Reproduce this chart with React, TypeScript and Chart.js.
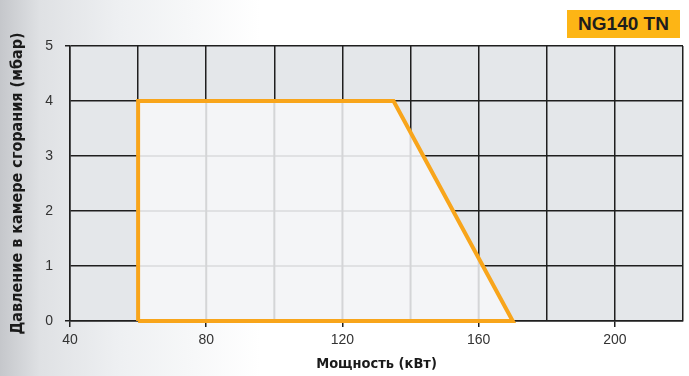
import React, { useEffect, useRef } from "react";
import { Chart, registerables } from "chart.js";

Chart.register(...registerables);

const TITLE = "NG140 TN";
const X_TITLE = "Мощность (кВт)";
const Y_TITLE = "Давление в камере сгорания (мбар)";
const X_MIN = 40;
const X_MAX = 220;
const X_STEP = 20;
const X_LABELED = [40, 80, 120, 160, 200];
const Y_MIN = 0;
const Y_MAX = 5;
const Y_STEP = 1;
// working field polygon: power (kW) vs pressure (mbar)
const fieldPower = [60, 60, 135, 170, 60];
const fieldPressure = [0, 4, 4, 0, 0];

const DARK = "#1f1f1f";
const ORANGE = "#f8a51b";
const TITLE_FONT = "'DejaVu Sans Condensed', 'DejaVu Sans', sans-serif";

export default function App() {
  const ref = useRef<HTMLCanvasElement | null>(null);

  useEffect(() => {
    document.body.style.margin = "0";
    const canvas = ref.current;
    if (!canvas) return;
    const pts = fieldPower.map((x, i) => ({ x, y: fieldPressure[i] }));

    const bgPlugin = {
      id: "plotBg",
      beforeDraw(chart: any) {
        const { ctx, chartArea: a } = chart;
        ctx.save();
        ctx.fillStyle = "#e4e7ea";
        ctx.fillRect(a.left, a.top, a.right - a.left, a.bottom - a.top);
        ctx.restore();
      },
      beforeDatasetsDraw(chart: any) {
        const { ctx, chartArea: a } = chart;
        const els = chart.getDatasetMeta(0).data;
        ctx.save();
        ctx.beginPath();
        els.forEach((p: any, i: number) => {
          if (i === 0) ctx.moveTo(p.x, p.y);
          else ctx.lineTo(p.x, p.y);
        });
        ctx.closePath();
        ctx.fillStyle = "#f4f5f7";
        ctx.fill();
        ctx.clip();
        ctx.lineWidth = 2;
        const xs = chart.scales.x, ys = chart.scales.y;
        ctx.strokeStyle = "#e0e1e3";
        ys.ticks.forEach((t: any) => {
          const py = ys.getPixelForValue(t.value);
          ctx.beginPath();
          ctx.moveTo(a.left, py);
          ctx.lineTo(a.right, py);
          ctx.stroke();
        });
        ctx.strokeStyle = "#d4d5d7";
        xs.ticks.forEach((t: any) => {
          const px = xs.getPixelForValue(t.value);
          ctx.beginPath();
          ctx.moveTo(px, a.top);
          ctx.lineTo(px, a.bottom);
          ctx.stroke();
        });
        ctx.restore();
      },
    };

    const chart = new Chart(canvas, {
      type: "line",
      data: {
        datasets: [
          {
            data: pts,
            borderColor: ORANGE,
            borderWidth: 4,
            borderJoinStyle: "miter",
            fill: false,
            pointRadius: 0,
            tension: 0,
            clip: false as any,
          },
        ],
      },
      options: {
        responsive: false,
        animation: false,
        events: [],
        layout: { padding: { top: 46, right: 6, left: 0, bottom: 0 } },
        plugins: { legend: { display: false }, tooltip: { enabled: false } },
        scales: {
          x: {
            type: "linear",
            min: X_MIN,
            max: X_MAX,
            afterFit: (s: any) => { s.height = 55; },
            ticks: {
              stepSize: X_STEP,
              autoSkip: false,
              maxRotation: 0,
              padding: 5,
              color: "#333",
              font: { family: "Liberation Sans", size: 14 },
              callback: (v: any) => (X_LABELED.includes(Number(v)) ? String(v) : ""),
            },
            grid: {
              color: DARK,
              lineWidth: 1.5,
              tickLength: 6,
              tickColor: (c: any) =>
                c.tick && X_LABELED.includes(c.tick.value) ? DARK : "rgba(0,0,0,0)",
            },
            border: { display: true, color: DARK, width: 1.5 },
            title: {
              display: true,
              text: X_TITLE,
              color: "#1a1a1a",
              font: { family: TITLE_FONT, size: 14.5, weight: "bold" },
              padding: { top: 0, bottom: 3 },
            },
          },
          y: {
            type: "linear",
            min: Y_MIN,
            max: Y_MAX,
            afterFit: (s: any) => { s.width = 70; },
            ticks: {
              stepSize: Y_STEP,
              padding: 12,
              color: "#333",
              font: { family: "Liberation Sans", size: 14 },
            },
            grid: {
              color: DARK,
              lineWidth: 1.5,
              tickLength: 5,
              tickColor: (c: any) =>
                c.tick && (c.tick.value === 0 || c.tick.value === 5) ? DARK : "rgba(0,0,0,0)",
            },
            border: { display: true, color: DARK, width: 1.5 },
            title: {
              display: true,
              text: Y_TITLE,
              color: "#1a1a1a",
              font: { family: TITLE_FONT, size: 16, weight: "bold" },
              padding: { top: 8, bottom: 0 },
            },
          },
        },
      },
      plugins: [bgPlugin],
    } as any);
    return () => chart.destroy();
  }, []);

  return (
    <div
      style={{
        position: "relative",
        width: 689,
        height: 376,
        background:
          "linear-gradient(to right, #c5c7cb 0px, #dfe1e4 40px, #eef0f2 120px, #ffffff 260px)",
      }}
    >
      <canvas ref={ref} width={689} height={376} style={{ display: "block" }} />
      <div
        style={{
          position: "absolute",
          left: 567,
          top: 10,
          width: 113,
          height: 28,
          background: "#fdb515",
          color: "#1d1d1d",
          fontFamily: "'Liberation Sans', Arial, sans-serif",
          fontWeight: "bold",
          fontSize: 19,
          lineHeight: "28px",
          textAlign: "center",
        }}
      >
        {TITLE}
      </div>
    </div>
  );
}
